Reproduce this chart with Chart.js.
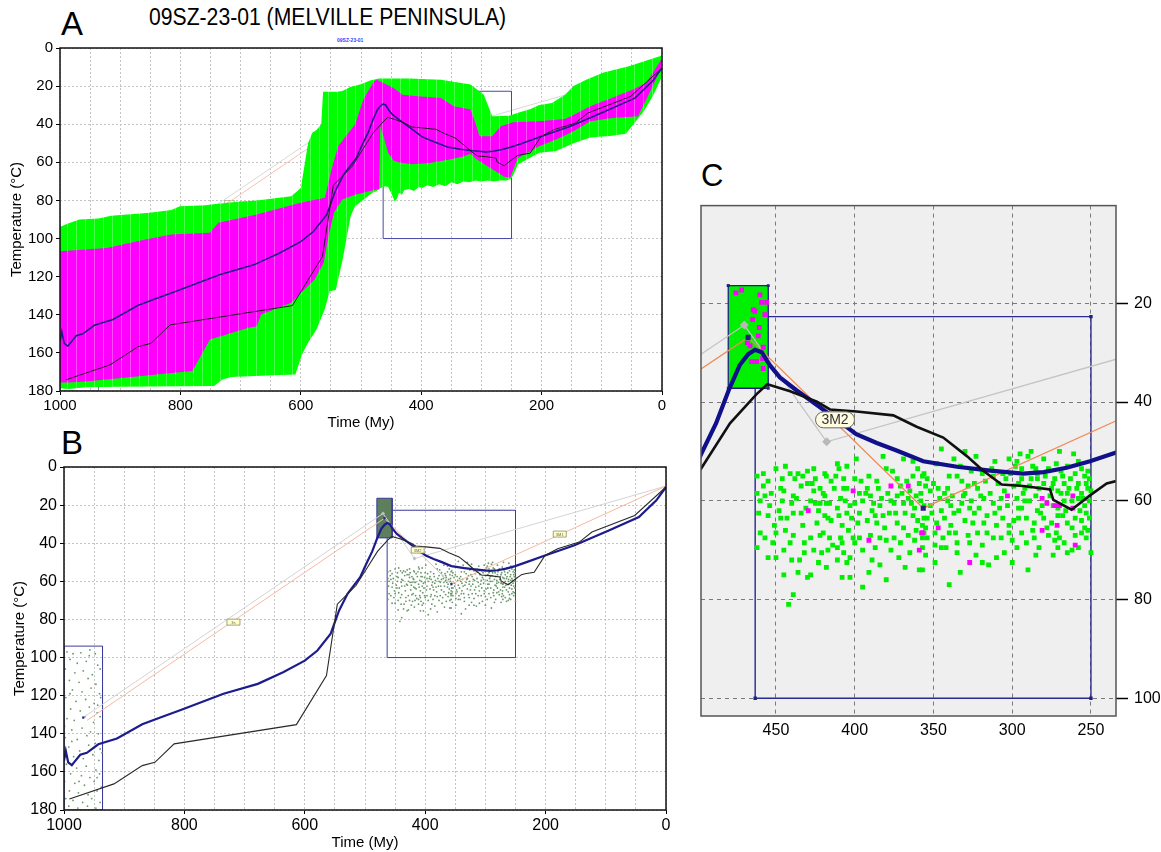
<!DOCTYPE html>
<html>
<head>
<meta charset="utf-8">
<script src="https://cdn.jsdelivr.net/npm/chart.js@4.4.1/dist/chart.umd.min.js"></script>
<style>
  body { margin: 0; background: #fff; width: 1161px; height: 852px; position: relative; overflow: hidden;
         font-family: "Liberation Sans", Arial, sans-serif; }
  canvas { position: absolute; }
  .big { position: absolute; font-size: 33px; line-height: 1; color: #000; }
  .ttl { position: absolute; left: 149px; top: 6px; font-size: 23px; line-height: 1; transform: scaleX(0.92); transform-origin: left top; white-space: nowrap; }
  .tiny { position: absolute; left: 337px; top: 37px; font-size: 5px; font-weight: bold; color: #3d3dff; }
</style>
</head>
<body>
<div class="big" style="left:61px;top:7px">A</div>
<div class="ttl">09SZ-23-01 (MELVILLE PENINSULA)</div>
<div class="tiny">09SZ-23-01</div>
<div class="big" style="left:61px;top:426px">B</div>
<div class="big" style="left:701px;top:160px;font-size:31px">C</div>

<canvas id="chartA" width="680" height="410" style="left:0;top:30px"></canvas>
<canvas id="chartB" width="686" height="412" style="left:0;top:440px"></canvas>
<canvas id="chartC" width="471" height="560" style="left:690px;top:190px"></canvas>

<script>
// ---- axis ticks ----
const X_GRID = [0, 50, 100, 150, 200, 250, 300, 350, 400, 450, 500, 550, 600, 650, 700, 750, 800, 850, 900, 950, 1000];
const X_LABELED = [0, 200, 400, 600, 800, 1000];
const Y_TICKS = [0, 20, 40, 60, 80, 100, 120, 140, 160, 180];
const C_X_TICKS = [450, 400, 350, 300, 250];
const C_Y_TICKS = [20, 40, 60, 80, 100];

// ---- envelopes (time My, temperature C) ----
const GREEN_UPPER = [[1000, 94], [990, 92.5], [968, 90], [936, 89.5], [915, 88], [851, 86.5], [815, 85], [801, 83],
  [758, 82.5], [745, 82], [701, 80.5], [673, 80], [616, 77.8], [609, 76], [600, 73.5], [593, 60], [588, 50],
  [581, 44.5], [574, 43], [566, 40], [563, 23], [540, 23], [531, 22.5], [518, 20.5], [500, 19], [485, 17],
  [470, 16], [420, 16], [367, 16.6], [318, 19.2], [296, 24.5], [282, 35.8], [254, 35.5], [239, 34], [218, 32],
  [205, 30], [183, 28.8], [161, 24.5], [147, 20], [126, 16.6], [97, 12.8], [55, 9.6], [0, 4]];
const GREEN_LOWER = [[1000, 178.5], [986, 179], [957, 178], [900, 177.8], [800, 177.5], [744, 177.4], [730, 174],
  [716, 172.7], [645, 171.8], [609, 171.3], [598, 160.8], [588, 154.7], [574, 147.7], [560, 137], [552, 127.6],
  [542, 127], [531, 111.8], [517, 88], [510, 83], [481, 76], [474, 75], [467, 73.5], [460, 72.5], [455, 73],
  [450, 76], [444, 80.5], [440, 79], [437, 76], [432, 77], [428, 74.5], [420, 74], [412, 75], [404, 73],
  [398, 73.5], [390, 72], [380, 73], [370, 71.5], [360, 72.5], [350, 70.5], [340, 71.5], [330, 70], [320, 70.5],
  [310, 69.5], [300, 70], [290, 69.5], [280, 70], [270, 69.5], [258, 69.5], [250, 68.5], [239, 61], [204, 55],
  [176, 54], [147, 50], [119, 47], [83, 46], [60, 45], [50, 41], [30, 33], [15, 25], [0, 15]];
const MAGENTA_UPPER = [[1000, 106.6], [922, 105], [858, 100.5], [815, 97.9], [751, 97], [737, 91.7], [673, 87.4],
  [602, 81.3], [560, 78.6], [549, 63.8], [538, 51.6], [521, 44.6], [510, 40.2], [496, 27], [485, 21], [478, 17.5],
  [474, 16.6], [446, 21], [431, 24.5], [406, 25.3], [367, 26.2], [346, 30.6], [318, 32.3], [310, 39.3],
  [303, 46.3], [282, 46.3], [268, 41], [247, 39], [204, 38.4], [161, 37.2], [140, 34], [119, 30.6], [90, 27],
  [48, 21.8], [26, 18.3], [0, 5.5]];
const MAGENTA_LOWER = [[1000, 175.5], [986, 175.6], [957, 175], [780, 169.5], [751, 153], [730, 151], [687, 146.8],
  [673, 146], [666, 139.8], [616, 133.7], [594, 126.7], [577, 121.5], [562, 112.7], [555, 100.5], [545, 86.5],
  [531, 79.5], [510, 77], [485, 75], [474, 74.3], [470, 74], [468, 41], [462, 47], [455, 55], [446, 59],
  [438, 60], [417, 61], [389, 60.5], [353, 58.5], [330, 57], [318, 55.5], [310, 58], [300, 60], [290, 62],
  [275, 65], [262, 67.5], [252, 68], [245, 62], [239, 57.7], [204, 51.6], [176, 48], [147, 43.7], [119, 38.4],
  [83, 36.7], [40, 35.8], [26, 27], [0, 9.6]];

// ---- paths ----
const MEAN_PATH = [[1000, 154], [997, 149], [993, 155], [987, 156.5], [982, 154.5], [973, 151], [962, 150],
  [943, 145.5], [912, 142.5], [870, 135], [840, 131.5], [806, 127.5], [735, 119], [678, 113.8], [636, 107.7],
  [600, 101.6], [579, 96.3], [557, 87.5], [543, 75.3], [529, 66.5], [508, 57.8], [497.6, 50.6], [488, 44.3],
  [480, 37.6], [473, 32.5], [467.6, 30.3], [463.3, 29.4], [459, 29.9], [454, 32.5], [447.5, 35], [437, 37.6],
  [424, 40.6], [411.5, 43.5], [399, 46.5], [386, 48.3], [373.4, 49.8], [356.5, 52], [335, 53.1], [314, 53.9],
  [293, 54.5], [280, 54.2], [265.5, 53.3], [250.6, 52], [234, 50.2], [201, 46.4], [152, 41.1], [95, 33.3],
  [45, 26.3], [16, 17.5], [0, 10.5]];
const BEST_PATH = [[991, 174.2], [917, 166.3], [870, 156.7], [849, 155], [817, 145.3], [614, 135.2], [564, 109.4],
  [546, 72], [515, 62.2], [497.6, 53.5], [479.2, 44.3], [462.3, 38.4], [455.5, 36.4], [441, 37.8], [424, 39.9],
  [415.7, 41.5], [398.8, 41.9], [375.5, 42.7], [360.7, 45], [343.8, 47.2], [329, 50.9], [318.4, 53.9],
  [306.7, 56.7], [293, 57], [276, 57.7], [273.9, 59.8], [262.3, 61.8], [250.6, 58.9], [240, 56.5], [234, 56],
  [219, 55.2], [201, 46.4], [180, 42.9], [144, 39.4], [123, 34.1], [52, 25.4], [0, 10.5]];
const ORANGE_PATH = [[962, 133], [467.7, 26.9], [356.5, 61.5], [0, 10]];
const GRAY_PATH = [[966, 131], [470.1, 24.4], [417.8, 48.05], [0, 10]];
const GRAY_NODES = [[470.1, 24.4], [417.8, 48.05]];
const NAVY_NODES = [[968, 131.5], [467.7, 26.9], [356.5, 61.5]];

// ---- constraint boxes: [time start, time end, T top, T bottom] ----
const BOX_OLD = [1000, 936, 94, 180];
const BOX_MID = [480.3, 454.9, 16.4, 37.2];
const BOX_YOUNG = [463.2, 250, 22.7, 100];

// ---- labels ----
const TAG_TEXT = ['3s', '3M1', '3M2'];
const TAG_POS = [[718.5, 81.4], [176.5, 35.2], [412.5, 43.6]];

// ---- modelled paths scatter (green = acceptable, magenta = good) ----
const CLOUD_GREEN = [[462, 55], [458, 54.5], [450, 53.5], [444, 53], [441, 54.5], [438, 55.5], [436, 54.5],
  [430, 54], [426, 53.5], [419, 54.5], [418, 55], [411, 52.5], [410, 53.5], [412, 55], [405, 53], [399, 51.5],
  [400, 55.5], [391, 55], [382, 51], [380, 53.5], [369, 51.5], [363, 52], [360, 53.5], [357, 55], [363, 55],
  [367, 56], [373, 55.5], [462, 58.5], [457, 59], [453, 58.5], [447, 57.5], [445, 58], [439, 59], [434, 57],
  [430, 56.5], [427, 56.5], [422, 57.5], [419, 59], [416, 60.5], [411, 61.5], [409, 59.5], [407, 57.5],
  [405, 57.5], [403, 61], [397, 58.5], [392, 57.5], [393, 58.5], [388, 60.5], [385, 57.5], [379, 58.5],
  [373, 59], [370, 58.5], [365, 58], [361, 59], [359, 56.5], [355, 57], [369, 60.5], [364, 60.5], [375, 60.5],
  [384, 61], [461, 62.5], [455, 63], [448, 62], [447, 63.5], [440, 60.5], [439, 62.5], [434, 62.5], [428, 60],
  [425, 60.5], [422, 60.5], [418, 60.5], [424, 64.5], [419, 63], [415, 64], [408, 65], [405, 62.5], [402, 63.5],
  [397, 62.5], [392, 64], [389, 62], [386, 64.5], [382, 63], [378, 62.5], [373, 64.5], [369, 65.5], [363, 63],
  [357, 65], [355, 65.5], [357, 67.5], [460, 66.5], [457, 67.5], [450, 66.5], [444, 66], [441, 68.5], [439, 67],
  [428, 67.5], [422, 67], [420, 66.5], [416, 67.5], [409, 67.5], [408, 68.5], [411, 69.5], [407, 70.5],
  [401, 67.5], [397, 67.5], [390, 67], [384, 67.5], [380, 68], [375, 67.5], [371, 68.5], [366, 67], [361, 66],
  [356, 66.5], [462, 69.5], [450, 71.5], [440, 72], [435, 72], [432, 70.5], [423, 72.5], [421, 70.5], [417, 70],
  [411, 72], [403, 71.5], [400, 68.5], [389, 72], [384, 73], [372, 71.5], [368, 73.5], [359, 74], [430, 75.5],
  [428, 75], [436, 74.5], [408, 75.5], [403, 75.5], [391, 74.5], [439, 79], [442, 81],
  [345, 49.5], [337, 51.5], [330, 50], [323, 51], [311, 52], [302, 51.5], [297, 52], [294, 53.5], [290, 51],
  [288, 50], [285, 53.5], [284, 54.5], [277, 53.5], [272, 52.5], [269, 54], [265, 53], [261, 50.5], [260, 54.5],
  [256, 53.5], [252, 54], [251, 55.5], [356, 54.5], [354, 55.5], [350, 56.5], [347, 57.5], [341, 57.5], [335, 55],
  [332, 56], [328, 57], [330, 58.5], [324, 56.5], [322, 57.5], [317, 56], [312, 55], [309, 56.5], [304, 55.5],
  [301, 54.5], [299, 57], [294, 55.5], [292, 57.5], [288, 55.5], [284, 55.5], [280, 56.5], [275, 57.5],
  [273, 55.5], [267, 56.5], [263, 55.5], [258, 56.5], [254, 55], [252, 57.5], [256, 58.5], [265, 58.5],
  [269, 58.5], [358, 60], [352, 61], [346, 59.5], [341, 60], [338, 59], [332, 60.5], [326, 60], [321, 61.5],
  [318, 59.5], [312, 60.5], [307, 59.5], [303, 61], [297, 59.5], [294, 61.5], [289, 60], [285, 59], [282, 62.5],
  [274, 61], [271, 61.5], [267, 60], [258, 59.5], [254, 61], [251, 60], [356, 63.5], [351, 62.5], [348, 64.5],
  [343, 63.5], [339, 65], [337, 62.5], [330, 64], [324, 62.5], [318, 64.5], [311, 62.5], [306, 63.5], [302, 65],
  [296, 63.5], [291, 63.5], [286, 64.5], [280, 63.5], [275, 64.5], [271, 63], [265, 64.5], [260, 63.5],
  [256, 64], [253, 62.5], [354, 67.5], [349, 66.5], [344, 67.5], [340, 66.5], [335, 68.5], [328, 67], [322, 66.5],
  [316, 66.5], [312, 67.5], [307, 67.5], [302, 66.5], [294, 66.5], [291, 68.5], [286, 67.5], [277, 67], [273, 68],
  [267, 68.5], [260, 67], [254, 65.5], [253, 67.5], [357, 69.5], [349, 69], [342, 69.5], [327, 68.5], [319, 69],
  [305, 70.5], [297, 69.5], [283, 69.5], [274, 71], [271, 69.5], [265, 70.5], [258, 69.5], [250, 70.5],
  [323, 71], [319, 72.5], [349, 72.5], [357, 74],
  [298, 53], [296, 56.5], [293, 58.5], [289, 57], [287, 53], [283, 57.5], [281, 61], [279, 55], [276, 59],
  [274, 56.5], [271, 58], [268, 55], [266, 62], [264, 57.5], [262, 60], [259, 57.5], [257, 62], [255, 59.5],
  [253, 56.5], [251, 63.5], [250, 58], [252, 66], [256, 66.5], [262, 65.5], [268, 63], [272, 66.5], [278, 65.5],
  [284, 62], [287, 66], [292, 60], [296, 61.5], [299, 64], [305, 58], [308, 61.5], [310, 65], [314, 58.5],
  [316, 63], [320, 59], [325, 64.5], [327, 61.5], [331, 59], [334, 62], [336, 66.5], [339, 61], [343, 58.5],
  [345, 62], [352, 58], [354, 63.5], [356, 61], [313, 53.5], [306, 54.5], [319, 54.5], [326, 54], [333, 53],
  [340, 55], [348, 52.5], [295, 50.5], [280, 51.5], [270, 50], [258, 52], [300, 68], [285, 71], [270, 67.5],
  [262, 70], [310, 71.5], [335, 70.5], [345, 69.5], [315, 73], [300, 72.5], [290, 74], [333, 74.5], [340, 77],
  [355, 71], [458, 57], [454, 61], [451, 65], [446, 60], [443, 63.5], [437, 59.5], [433, 65], [431, 61.5],
  [426, 58], [423, 62], [420, 58.5], [417, 63.5], [413, 57.5], [410, 63], [406, 60], [404, 66], [400, 60.5],
  [398, 64.5], [395, 60], [390, 59], [387, 63], [383, 59.5], [381, 65.5], [377, 60], [374, 62.5], [371, 57],
  [368, 62.5], [366, 59.5], [362, 61.5], [360, 64], [358, 58.5], [376, 54], [386, 56], [396, 56], [407, 55.5],
  [415, 56], [425, 55.5], [433, 55], [446, 55.5], [455, 56], [460, 60], [452, 68.5], [445, 70], [432, 68.5],
  [426, 70], [414, 69], [405, 72.5], [395, 70], [387, 69.5], [377, 70], [365, 70.5], [362, 68], [418, 73.5],
  [445, 75], [395, 77.5], [380, 76], [455, 71.5]];
const CLOUD_MAGENTA = [[401, 58], [429.5, 62], [391, 68], [377, 57], [366, 57], [357.5, 66.5], [359, 70],
  [357, 66.5], [347, 65.5], [327, 72.5], [303, 59], [281, 59.5], [278, 60.5], [273, 61], [270, 61], [261.5, 59],
  [261.5, 61.5], [281, 66], [271.5, 65], [260, 69]];
const BOX_MID_MAGENTA = [[471.8, 17.3], [475.4, 17.9], [460.2, 18.3], [455.9, 19.8], [459.1, 19.8], [464.4, 21.3],
  [463.3, 21.6], [457, 22.3], [464.8, 23.3], [460.6, 24.9], [468.2, 28], [466.5, 28.6], [461.2, 26.6],
  [458.1, 28.9], [465.4, 31.8], [462.3, 31.8], [458.5, 31.2], [458.1, 33.2]];
const BOX_OLD_POINTS = [[995, 97], [985, 98], [972, 97.5], [958, 99], [948, 98], [990, 101], [978, 103], [963, 102],
  [944, 104], [998, 106], [982, 108], [968, 107], [953, 109], [940, 106], [991, 112], [975, 113], [960, 111],
  [947, 114], [986, 117], [970, 118], [955, 116], [941, 119], [997, 121], [980, 123], [964, 122], [950, 124],
  [939, 121], [989, 127], [973, 128], [958, 126], [945, 129], [995, 132], [983, 133], [951, 134], [940, 131],
  [987, 138], [970, 137], [956, 139], [943, 140], [998, 142], [978, 143], [962, 141], [948, 145], [992, 147],
  [974, 149], [959, 146], [940, 148], [984, 152], [968, 153], [952, 151], [942, 154], [996, 156], [979, 158],
  [963, 157], [947, 159], [989, 161], [971, 162], [957, 163], [941, 161], [999, 165], [982, 166], [966, 167],
  [950, 165], [938, 168], [991, 170], [976, 171], [960, 172], [945, 170], [997, 174], [985, 175], [969, 176],
  [954, 174], [940, 176], [992, 178], [977, 179], [961, 178], [947, 179], [987, 144], [965, 131], [944, 125],
  [990, 119], [957, 96], [975, 165], [945, 163], [963, 150], [999, 136], [937, 150]];

// ---- helpers ----
const xy = a => a.map(([x, y]) => ({x, y}));
const rect = ([x0, x1, y0, y1]) => xy([[x0, y0], [x1, y0], [x1, y1], [x0, y1], [x0, y0]]);
const poly = (upper, lower) => xy(upper.concat(lower.slice().reverse()));

function stripes(canvasId, base, light) {
  const c = document.createElement('canvas');
  c.width = 9; c.height = 4;
  const g = c.getContext('2d');
  g.fillStyle = base; g.fillRect(0, 0, 9, 4);
  g.fillStyle = light; g.fillRect(4, 0, 1, 4);
  return document.getElementById(canvasId).getContext('2d').createPattern(c, 'repeat');
}

const framePlugin = {
  id: 'frame',
  beforeDraw(chart, args, o) {
    if (!o.bg) return;
    const {ctx, chartArea: a} = chart;
    ctx.save(); ctx.fillStyle = o.bg; ctx.fillRect(a.left, a.top, a.right - a.left, a.bottom - a.top); ctx.restore();
  },
  afterDraw(chart, args, o) {
    const {ctx, chartArea: a} = chart;
    ctx.save(); ctx.strokeStyle = o.color; ctx.lineWidth = o.width;
    ctx.strokeRect(a.left, a.top, a.right - a.left, a.bottom - a.top); ctx.restore();
  }
};

function drawTags(chart, o) {
  const {ctx, chartArea: ca, scales: {x, y}} = chart;
  ctx.save();
  ctx.font = o.txt; ctx.textAlign = 'center'; ctx.textBaseline = 'middle';
  TAG_TEXT.forEach((t, i) => {
    const px = x.getPixelForValue(TAG_POS[i][0]), py = y.getPixelForValue(TAG_POS[i][1]);
    if (px < ca.left || px > ca.right || py < ca.top || py > ca.bottom) return;
    ctx.fillStyle = o.fill; ctx.strokeStyle = o.stroke; ctx.lineWidth = o.lw;
    ctx.beginPath(); ctx.roundRect(px - o.w / 2, py - o.h / 2, o.w, o.h, o.r); ctx.fill(); ctx.stroke();
    ctx.fillStyle = o.ink; ctx.fillText(t, px, py + 0.5);
  });
  ctx.restore();
}
const tagPlugin = {
  id: 'tags',
  beforeDatasetsDraw(chart, args, o) { if (o.under) drawTags(chart, o); },
  afterDatasetsDraw(chart, args, o) { if (!o.under) drawTags(chart, o); }
};

const FONT = '"Liberation Sans", Arial, sans-serif';

function line(data, color, width, order, extra) {
  return Object.assign({type: 'scatter', data: xy(data), showLine: true, borderColor: color, borderWidth: width,
    pointRadius: 0, fill: false, order}, extra || {});
}
function dots(data, color, radius, order, style) {
  return {type: 'scatter', data: xy(data), showLine: false, backgroundColor: color, borderWidth: 0,
    pointRadius: radius, pointStyle: style || 'circle', order};
}
function box(b, color, width, order, extra) {
  return Object.assign({type: 'scatter', data: rect(b), showLine: true, borderColor: color, borderWidth: width,
    pointRadius: 0, fill: false, order}, extra || {});
}

function mainScales(yTitlePad, xTitlePad, xHeight, yWidth, tickSize) {
  const tickFont = {family: FONT, size: tickSize};
  const titleFont = {family: FONT, size: 15};
  const grid = {color: '#c4c4c4', lineWidth: 1, tickLength: 4,
    tickColor: c => (c.tick && c.tick.value % 20 === 0 && (c.scale.axis === 'y' || c.tick.value % 200 === 0)) ? '#000' : 'rgba(0,0,0,0)'};
  return {
    x: {
      type: 'linear', min: 0, max: 1000, reverse: true,
      afterBuildTicks: s => { s.ticks = X_GRID.map(v => ({value: v})); },
      afterFit: s => { s.height = xHeight; },
      ticks: {autoSkip: false, maxRotation: 0, padding: 2, color: '#000', font: tickFont,
        callback: v => X_LABELED.includes(v) ? String(v) : ''},
      grid: grid,
      border: {display: false, dash: [2, 2]},
      title: {display: true, text: 'Time (My)', color: '#000', font: titleFont, padding: {top: 0, bottom: xTitlePad}}
    },
    y: {
      type: 'linear', min: 0, max: 180, reverse: true,
      afterBuildTicks: s => { s.ticks = Y_TICKS.map(v => ({value: v})); },
      afterFit: s => { s.width = yWidth; },
      ticks: {autoSkip: false, padding: 3, color: '#000', font: tickFont},
      grid: grid,
      border: {display: false, dash: [2, 2]},
      title: {display: true, text: 'Temperature (°C)', color: '#000', font: titleFont, padding: {top: yTitlePad, bottom: 0}}
    }
  };
}

const baseOpts = {
  responsive: false, animation: false, devicePixelRatio: 1,
  events: [],
};

// ---- Panel A: envelopes ----
new Chart(document.getElementById('chartA'), {
  type: 'scatter',
  data: {datasets: [
    line(BEST_PATH, '#222222', 1, 1),
    line(MEAN_PATH, '#1c1c86', 1.6, 2),
    {type: 'scatter', data: poly(MAGENTA_UPPER, MAGENTA_LOWER), showLine: true, borderWidth: 0, pointRadius: 0,
      fill: 'shape', backgroundColor: stripes('chartA', '#ff00ff', '#ff4dff'), order: 19},
    {type: 'scatter', data: poly(GREEN_UPPER, GREEN_LOWER), showLine: true, borderWidth: 0, pointRadius: 0,
      fill: 'shape', backgroundColor: stripes('chartA', '#00ff00', '#4dff4d'), order: 20},
    box(BOX_YOUNG, '#4848a8', 1, 30),
    box(BOX_OLD, '#8080c0', 1, 30),
    line(ORANGE_PATH, '#f4c2b0', 1, 31),
    line(GRAY_PATH, '#d8d8d8', 1, 31)
  ]},
  options: Object.assign({}, baseOpts, {
    layout: {padding: {top: 18, right: 18, left: 0, bottom: 0}},
    scales: mainScales(8, 8, 49, 60, 15),
    plugins: {legend: {display: false}, tooltip: {enabled: false},
      frame: {color: '#111', width: 1.5},
      tags: {under: true, txt: '4px ' + FONT, w: 10, h: 5, r: 0, fill: '#ffffd0', stroke: '#888', ink: '#555', lw: 0.6}}
  }),
  plugins: [framePlugin, tagPlugin]
});

// ---- Panel B: paths and constraints ----
new Chart(document.getElementById('chartB'), {
  type: 'scatter',
  data: {datasets: [
    line(BEST_PATH, '#2a2a2a', 1.1, 1),
    line(MEAN_PATH, '#1c1c8c', 2.2, 2),
    dots(NAVY_NODES, '#2a2a90', 1.6, 3, 'rect'),
    dots(GRAY_NODES, '#bdbdbd', 2, 4, 'rectRot'),
    line(ORANGE_PATH, '#f6b9a2', 1, 6),
    line(GRAY_PATH, '#d4d4d4', 1, 6),
    dots(CLOUD_GREEN, '#6a986a', 0.9, 8),
    dots(CLOUD_MAGENTA, '#6a986a', 0.9, 8),
    dots(BOX_OLD_POINTS, '#6a986a', 0.9, 8),
    box(BOX_MID, '#3b3b9b', 1, 9, {fill: 'shape', backgroundColor: '#5d7f5d'}),
    box(BOX_YOUNG, '#3b3b9b', 1, 10),
    box(BOX_OLD, '#3b3b9b', 1, 10)
  ]},
  options: Object.assign({}, baseOpts, {
    layout: {padding: {top: 27, right: 20, left: 0, bottom: 0}},
    scales: mainScales(11, 0, 42, 64, 16),
    plugins: {legend: {display: false}, tooltip: {enabled: false},
      frame: {color: '#111', width: 1.5},
      tags: {under: false, txt: '4px ' + FONT, w: 13, h: 6, r: 0, fill: '#ffffc8', stroke: '#8a8a6a', ink: '#666', lw: 0.8}}
  }),
  plugins: [framePlugin, tagPlugin]
});

// ---- Panel C: zoom on the Palaeozoic constraints ----
new Chart(document.getElementById('chartC'), {
  type: 'scatter',
  data: {datasets: [
    line(BEST_PATH, '#111111', 2.6, 1),
    line(MEAN_PATH, '#10108a', 4.2, 2),
    dots(NAVY_NODES, '#202080', 3.6, 3, 'rect'),
    dots(GRAY_NODES, '#b8b8b8', 4.5, 4, 'rectRot'),
    dots(BOX_MID_MAGENTA, '#ff00ff', 3.4, 5, 'rect'),
    line(ORANGE_PATH, '#f28a55', 1.3, 6),
    line(GRAY_PATH, '#c4c4c4', 1.3, 6),
    dots(CLOUD_MAGENTA, '#ff00ff', 3.4, 7, 'rect'),
    dots(CLOUD_GREEN, '#00ee00', 3.4, 8, 'rect'),
    box(BOX_MID, '#202080', 1.3, 9, {fill: 'shape', backgroundColor: '#00f000', pointRadius: 2, pointStyle: 'rect',
      pointBackgroundColor: '#202080', pointBorderWidth: 0}),
    box(BOX_YOUNG, '#2a2a90', 1.4, 10, {pointRadius: 2.4, pointStyle: 'rect', pointBackgroundColor: '#202080', pointBorderWidth: 0})
  ]},
  options: Object.assign({}, baseOpts, {
    layout: {padding: {top: 8, right: 0, left: 11, bottom: 0}},
    scales: {
      x: {
        type: 'linear', min: 234.1, max: 497.6, reverse: true,
        afterBuildTicks: s => { s.ticks = C_X_TICKS.map(v => ({value: v})); },
        afterFit: s => { s.height = 34; },
        ticks: {autoSkip: false, maxRotation: 0, padding: 5, color: '#000', font: {family: FONT, size: 16}},
        grid: {color: '#7a7a7a', lineWidth: 1, drawTicks: false},
        border: {display: false, dash: [4, 4]}
      },
      y: {
        type: 'linear', position: 'right', min: 0.2, max: 103.6, reverse: true,
        afterBuildTicks: s => { s.ticks = C_Y_TICKS.map(v => ({value: v})); },
        afterFit: s => { s.width = 45; },
        ticks: {autoSkip: false, padding: 6, color: '#000', font: {family: FONT, size: 16}},
        grid: {color: '#7a7a7a', lineWidth: 1, tickLength: 12, tickColor: '#000', tickWidth: 1.5},
        border: {display: false, dash: [4, 4]}
      }
    },
    plugins: {legend: {display: false}, tooltip: {enabled: false},
      frame: {color: '#555', width: 1.5, bg: '#efefef'},
      tags: {under: false, txt: '14px ' + FONT, w: 39, h: 16, r: 8, fill: '#fffbe0', stroke: '#666', ink: '#333', lw: 1}}
  }),
  plugins: [framePlugin, tagPlugin]
});
</script>
</body>
</html>
